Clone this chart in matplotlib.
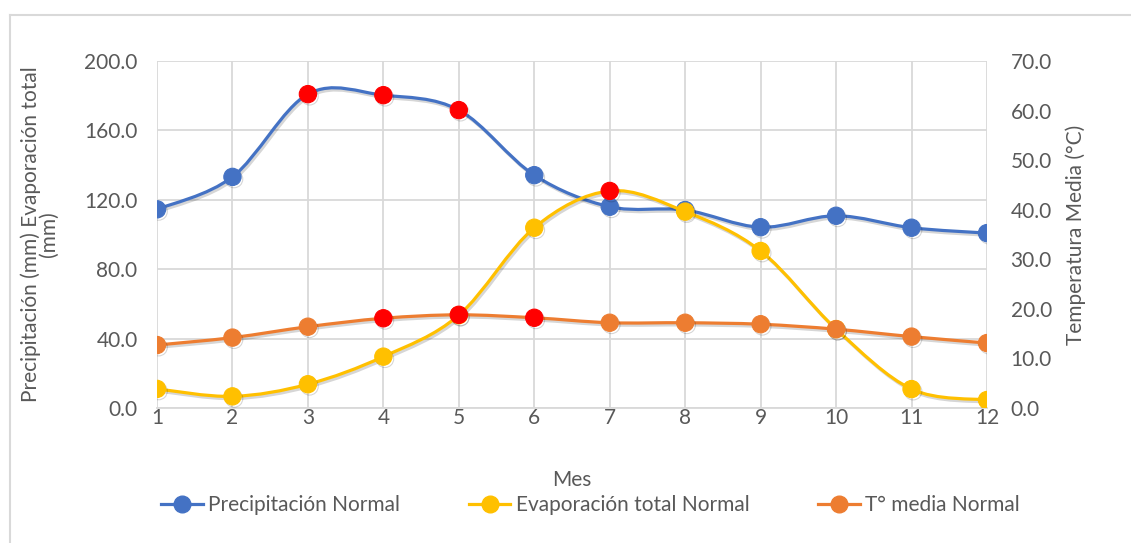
import matplotlib
matplotlib.use("Agg")
import matplotlib.pyplot as plt
import matplotlib.patheffects as pe
from matplotlib.path import Path
from matplotlib.patches import PathPatch
from matplotlib.lines import Line2D
import numpy as np

# monthly normals
meses = [1, 2, 3, 4, 5, 6, 7, 8, 9, 10, 11, 12]
precipitacion = [114.5, 133.2, 180.9, 180.3, 171.7, 134.2, 116.0, 114.1, 104.2, 110.8, 103.9, 100.8]
evaporacion = [11.0, 6.7, 13.7, 29.6, 53.5, 103.9, 125.1, 113.2, 90.5, 45.5, 10.9, 4.6]
temperatura = [12.7, 14.2, 16.4, 18.1, 18.8, 18.2, 17.2, 17.2, 16.9, 15.9, 14.4, 13.1]

# points shown in red
rojo_precip = [3, 4, 5]
rojo_evap = [7]
rojo_temp = [4, 5, 6]

AZUL = "#4472C4"
AMARILLO = "#FFC000"
NARANJA = "#ED7D31"
ROJO = "#FF0000"
GRIS = "#595959"
GRID = "#D9D9D9"

plt.rcParams["font.family"] = ["Lato", "DejaVu Sans"]
plt.rcParams["font.size"] = 15

sombra = [pe.SimpleLineShadow(offset=(1.2, -1.6), shadow_color="k", alpha=0.16, rho=1.0), pe.Normal()]


def curva_suave(x, y):
    """Catmull-Rom style bezier path through the points (Excel 'smoothed line')."""
    x = np.asarray(x, float)
    y = np.asarray(y, float)
    P = np.column_stack([x, y])
    n = len(P)
    verts = [P[0]]
    codes = [Path.MOVETO]
    for i in range(n - 1):
        p0 = P[i - 1] if i > 0 else P[i]
        p3 = P[i + 2] if i + 2 < n else P[i + 1]
        c1 = P[i] + (P[i + 1] - p0) / 6.0
        c2 = P[i + 1] - (p3 - P[i]) / 6.0
        verts += [c1, c2, P[i + 1]]
        codes += [Path.CURVE4] * 3
    return Path(verts, codes)


def serie(ax, x, y, color, rojos, z):
    patch = PathPatch(curva_suave(x, y), fill=False, edgecolor=color, lw=2.3,
                      capstyle="round", joinstyle="round", zorder=z)
    patch.set_path_effects(sombra)
    ax.add_patch(patch)
    colores = [ROJO if m in rojos else color for m in x]
    ax.scatter(x, y, s=155, c=colores, edgecolors=colores, linewidths=0.8,
               zorder=z + 0.5, path_effects=sombra)


fig = plt.figure(figsize=(11.31, 5.43), dpi=100)
ax = fig.add_axes([157 / 1131, 1 - 408 / 543, 830 / 1131, 347 / 543])
ax2 = ax.twinx()

serie(ax, meses, precipitacion, AZUL, rojo_precip, 3)
serie(ax, meses, evaporacion, AMARILLO, rojo_evap, 4)
serie(ax2, meses, temperatura, NARANJA, rojo_temp, 5)

ax.set_xlim(1, 12)
ax.set_ylim(0, 200)
ax2.set_ylim(0, 70)
ax.set_xticks(meses)
ax.set_yticks(np.arange(0, 201, 40))
ax2.set_yticks(np.arange(0, 71, 10))
ax.set_yticklabels([f"{v:.1f}" for v in np.arange(0, 201, 40)])
ax2.set_yticklabels([f"{v:.1f}" for v in np.arange(0, 71, 10)])

ax.grid(True, color=GRID, lw=1.3)
ax.set_axisbelow(True)
for a in (ax, ax2):
    for s in a.spines.values():
        s.set_visible(False)
    a.tick_params(length=0, colors=GRIS, labelsize=15)
ax.spines["bottom"].set_visible(True)
ax.spines["bottom"].set_color(GRID)
ax.spines["bottom"].set_linewidth(1.3)
ax.tick_params(axis="x", pad=0)
ax.tick_params(axis="y", pad=14)
ax2.tick_params(axis="y", pad=17)

ax.set_xlabel("Mes", color=GRIS, fontsize=15, labelpad=30)
ax.set_ylabel("Precipitación (mm) Evaporación total\n(mm)", color=GRIS, fontsize=15,
              labelpad=18, linespacing=0.9)
ax2.set_ylabel("Temperatura Media (°C)", color=GRIS, fontsize=15, labelpad=10)

handles = [
    Line2D([], [], color=AZUL, lw=2.3, marker="o", ms=12, label="Precipitación Normal"),
    Line2D([], [], color=AMARILLO, lw=2.3, marker="o", ms=12, label="Evaporación total Normal"),
    Line2D([], [], color=NARANJA, lw=2.3, marker="o", ms=12, label="T° media Normal"),
]
leg = fig.legend(handles=handles, loc="center", bbox_to_anchor=(0.522, 0.07), ncol=3,
                 frameon=False, fontsize=15, handlelength=2.0, handletextpad=0.25,
                 columnspacing=3.3)
for t in leg.get_texts():
    t.set_color(GRIS)

# chart frame
fig.add_artist(Line2D([10 / 1131, 1], [1 - 15 / 543] * 2, transform=fig.transFigure,
                      color=GRID, lw=1.5))
fig.add_artist(Line2D([10 / 1131] * 2, [0, 1 - 15 / 543], transform=fig.transFigure,
                      color=GRID, lw=1.5))

fig.savefig("out.png", dpi=100)
